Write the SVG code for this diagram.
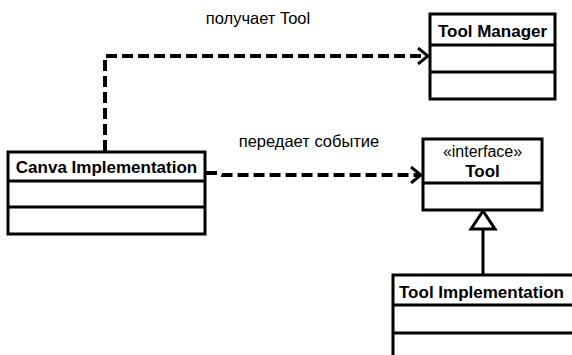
<svg xmlns="http://www.w3.org/2000/svg" width="572" height="355" viewBox="0 0 572 355">
  <style>
    .box { fill: #fff; stroke: #000; stroke-width: 3; }
    .div { stroke: #000; stroke-width: 3; fill: none; }
    .title { font-family: "Liberation Sans", Arial, sans-serif; font-weight: bold; font-size: 17px; fill: #000; }
    .stereo { font-family: "Liberation Sans", Arial, sans-serif; font-size: 16px; fill: #000; }
    .label { font-family: "Liberation Sans", Arial, sans-serif; font-size: 16.5px; fill: #000; }
    .dep { fill: none; stroke: #000; stroke-width: 4; stroke-dasharray: 11 5; }
    .gen { fill: none; stroke: #000; stroke-width: 3; }
  </style>
  <defs>
    <marker id="open" viewBox="0 0 12 18" refX="11" refY="9" markerWidth="12" markerHeight="18" markerUnits="userSpaceOnUse" orient="auto">
      <path d="M1,1 L11,9 L1,17" fill="none" stroke="#000" stroke-width="3"/>
    </marker>
  </defs>
  <rect width="572" height="355" fill="#fff"/>

  <g id="connectors">
    <path class="dep" d="M105,151 V56 H428" marker-end="url(#open)"/>
    <text class="label" x="258" y="24" text-anchor="middle">получает Tool</text>
    <path class="dep" d="M206,173 H218 L222,175 H421" marker-end="url(#open)"/>
    <text class="label" x="309" y="147" text-anchor="middle">передает событие</text>
    <path class="gen" d="M483,275 V229"/>
    <path d="M471,229 L483,211 L495,229 Z" fill="#fff" stroke="#000" stroke-width="3"/>
  </g>

  <g id="tool-manager">
    <rect class="box" x="430" y="14" width="125" height="85"/>
    <line class="div" x1="430" y1="45" x2="555" y2="45"/>
    <line class="div" x1="430" y1="72" x2="555" y2="72"/>
    <text class="title" x="492.5" y="37" text-anchor="middle">Tool Manager</text>
  </g>

  <g id="canva-implementation">
    <rect class="box" x="8" y="152" width="197" height="82"/>
    <line class="div" x1="8" y1="181" x2="205" y2="181"/>
    <line class="div" x1="8" y1="207" x2="205" y2="207"/>
    <text class="title" x="106.5" y="173" text-anchor="middle">Canva Implementation</text>
  </g>

  <g id="tool-interface">
    <rect class="box" x="423" y="139" width="119" height="71"/>
    <line class="div" x1="423" y1="183" x2="542" y2="183"/>
    <text class="stereo" x="482.5" y="157" text-anchor="middle">«interface»</text>
    <text class="title" x="482.5" y="177" text-anchor="middle">Tool</text>
  </g>

  <g id="tool-implementation">
    <rect class="box" x="393" y="275" width="185" height="90"/>
    <line class="div" x1="393" y1="305" x2="578" y2="305"/>
    <line class="div" x1="393" y1="333" x2="578" y2="333"/>
    <text class="title" x="399" y="298">Tool Implementation</text>
  </g>
</svg>
